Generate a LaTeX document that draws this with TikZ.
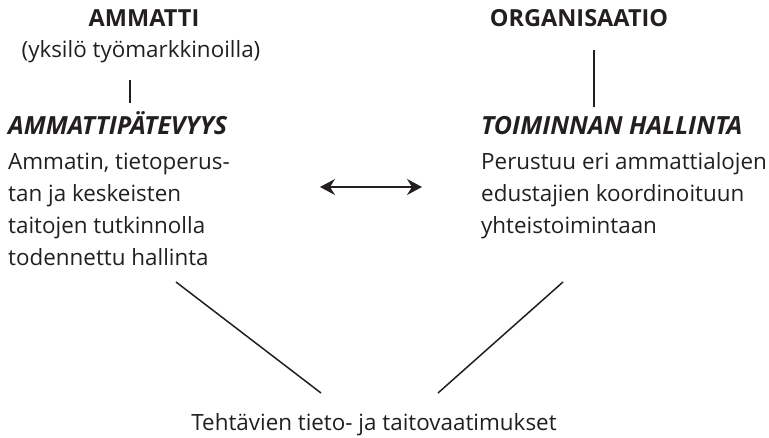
\documentclass[tikz,border=0pt]{standalone}
\usepackage{fontspec}
\setmainfont{Open Sans}
\usetikzlibrary{arrows.meta}
\definecolor{ink}{HTML}{231F20}
\begin{document}
\begin{tikzpicture}[x=1pt,y=-1pt,
  txt/.style={inner sep=0pt, text=ink, font=\fontsize{22.4}{32}\selectfont},
  head/.style={txt, font=\fontsize{23.5}{32}\selectfont\bfseries},
  ihead/.style={txt, font=\fontsize{25}{32}\selectfont\bfseries\itshape},
  body/.style={txt, align=left, anchor=base west},
  link/.style={draw=ink, line width=1.5pt},
  both/.style={link, {Stealth[length=15pt,width=16pt,inset=5pt]}-{Stealth[length=15pt,width=16pt,inset=5pt]}}]
\useasboundingbox (0,0) rectangle (769,438);

% left column
\node[head, anchor=base] (ammatti) at (144,27) {AMMATTI};
\node[txt, anchor=base] (yksilo) at (141,58) {(yksilö työmarkkinoilla)};
\node[ihead, anchor=base west] (patevyys) at (8,135) {AMMATTIPÄTEVYYS};
\node[body] (l1) at (8,170) {Ammatin, tietoperus-};
\node[body] (l2) at (8,202) {tan ja keskeisten};
\node[body] (l3) at (8,234) {taitojen tutkinnolla};
\node[body] (l4) at (8,266) {todennettu hallinta};

% right column
\node[head, anchor=base] (org) at (579,27) {ORGANISAATIO};
\node[ihead, anchor=base west] (toiminta) at (481,135) {TOIMINNAN HALLINTA};
\node[body] (r1) at (481,170) {Perustuu eri ammattialojen};
\node[body] (r2) at (481,202) {edustajien koordinoituun};
\node[body] (r3) at (481,234) {yhteistoimintaan};

% bottom
\node[txt, anchor=base] (vaatimukset) at (374,431) {Tehtävien tieto- ja taitovaatimukset};

% connector ends
\coordinate (a1) at (130,80);  \coordinate (a2) at (130,103);
\coordinate (o1) at (594,50);  \coordinate (o2) at (594,107);
\coordinate (h1) at (320,187); \coordinate (h2) at (422,187);
\coordinate (dl1) at (176,282); \coordinate (dl2) at (321,393);
\coordinate (dr1) at (563,282); \coordinate (dr2) at (438,393);

\draw[link] (a1) -- (a2);
\draw[link] (o1) -- (o2);
\draw[both] (h1) -- (h2);
\draw[link] (dl1) -- (dl2);
\draw[link] (dr1) -- (dr2);
\end{tikzpicture}
\end{document}
